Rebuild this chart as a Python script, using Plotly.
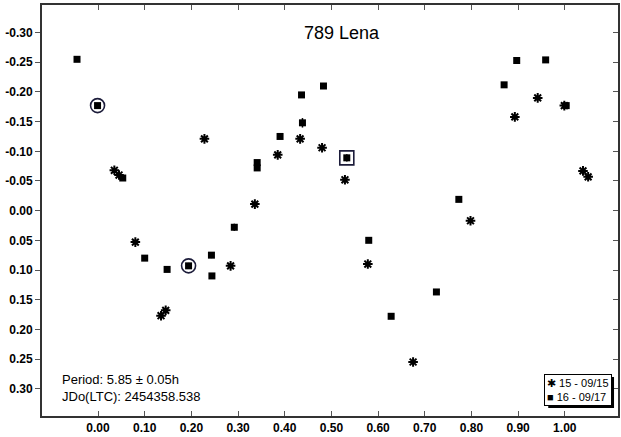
import plotly.graph_objects as go

# Session 15 (2007-09-15): phase and relative magnitude
phase_15 = [0.035, 0.045, 0.080, 0.135, 0.145, 0.228, 0.284, 0.336, 0.385, 0.433,
            0.480, 0.529, 0.578, 0.675, 0.798, 0.893, 0.942, 0.999, 1.039, 1.050]
mag_15 = [-0.068, -0.060, 0.053, 0.177, 0.168, -0.121, 0.093, -0.011, -0.094, -0.121,
          -0.106, -0.052, 0.090, 0.255, 0.017, -0.158, -0.190, -0.177, -0.067, -0.057]

# Session 16 (2007-09-17): phase, relative magnitude and errors
phase_16 = [-0.045, -0.001, 0.053, 0.100, 0.148, 0.194, 0.243, 0.244, 0.292, 0.341,
            0.341, 0.390, 0.436, 0.438, 0.483, 0.533, 0.580, 0.628, 0.725, 0.773,
            0.870, 0.897, 0.959, 1.003]
mag_16 = [-0.255, -0.177, -0.055, 0.080, 0.099, 0.093, 0.075, 0.110, 0.028, -0.081,
          -0.072, -0.125, -0.195, -0.148, -0.210, -0.089, 0.050, 0.178, 0.137, -0.019,
          -0.212, -0.253, -0.254, -0.177]
err_16 = [0, 0.004, 0, 0, 0, 0.005, 0.005, 0, 0.006, 0,
          0, 0.004, 0, 0.008, 0, 0.006, 0, 0, 0, 0,
          0, 0, 0, 0]

# Highlighted reference points
circle_phase = [-0.001, 0.194]
circle_mag = [-0.177, 0.093]
box_phase = [0.533]
box_mag = [-0.089]

x_ticks = [0.0, 0.1, 0.2, 0.3, 0.4, 0.5, 0.6, 0.7, 0.8, 0.9, 1.0]
x_labels = ["0.00", "0.10", "0.20", "0.30", "0.40", "0.50", "0.60", "0.70", "0.80", "0.90", "1.00"]
y_ticks = [-0.30, -0.25, -0.20, -0.15, -0.10, -0.05, 0.0, 0.05, 0.10, 0.15, 0.20, 0.25, 0.30]
y_labels = ["-0.30", "-0.25", "-0.20", "-0.15", "-0.10", "-0.05", "0.00",
            "0.05", "0.10", "0.15", "0.20", "0.25", "0.30"]

x_range = [-0.120, 1.114]
y_range = [0.346, -0.3465]

FONT = "Liberation Sans, Arial, sans-serif"
ring = "#1c1c3a"

fig = go.Figure()
fig.add_trace(go.Scatter(
    x=phase_15, y=mag_15, mode="markers", name="15 - 09/15",
    marker=dict(symbol="asterisk-open", size=8, color="black",
                line=dict(color="black", width=2))))
fig.add_trace(go.Scatter(
    x=phase_16, y=mag_16, mode="markers", name="16 - 09/17",
    marker=dict(symbol="square", size=7, color="black"),
    error_y=dict(type="data", array=err_16, color="black", thickness=1.5, width=0)))
fig.add_trace(go.Scatter(
    x=circle_phase, y=circle_mag, mode="markers", showlegend=False,
    marker=dict(symbol="circle-open", size=14, color=ring, line=dict(color=ring, width=1.6))))
fig.add_trace(go.Scatter(
    x=box_phase, y=box_mag, mode="markers", showlegend=False,
    marker=dict(symbol="square-open", size=14, color=ring, line=dict(color=ring, width=1.6))))
# empty trace so the right-hand tick axis is drawn
fig.add_trace(go.Scatter(x=[], y=[], yaxis="y2", showlegend=False))

fig.update_layout(
    width=621, height=437,
    margin=dict(l=42, r=1, t=5, b=21),
    paper_bgcolor="white", plot_bgcolor="white",
    showlegend=False,
    xaxis=dict(range=x_range, tickvals=x_ticks, ticktext=x_labels,
               ticks="inside", ticklen=5, tickwidth=1, tickcolor="#555",
               mirror="ticks", showline=True, linecolor="#333", linewidth=2,
               showgrid=False, zeroline=False,
               tickfont=dict(family=FONT, size=12, color="black", weight="bold")),
    yaxis=dict(range=y_range, tickvals=y_ticks, ticktext=y_labels,
               ticks="outside", ticklen=5, tickwidth=1, tickcolor="#555",
               mirror=True, showline=True, linecolor="#333", linewidth=2,
               showgrid=False, zeroline=False,
               tickfont=dict(family=FONT, size=12, color="black", weight="bold")),
    yaxis2=dict(range=y_range, overlaying="y", side="right", tickvals=y_ticks,
                ticks="inside", ticklen=5, tickwidth=1, tickcolor="#555",
                showticklabels=False, showline=False, showgrid=False, zeroline=False),
)

# title
fig.add_annotation(text="789 Lena", xref="paper", yref="paper", x=0.52, y=0.931,
                   xanchor="center", yanchor="middle", showarrow=False,
                   font=dict(family=FONT, size=18, color="black"))

# period / epoch note
fig.add_annotation(text="Period: 5.85 ± 0.05h<br>JDo(LTC): 2454358.538",
                   xref="paper", yref="paper", x=0.032, y=0.067,
                   xanchor="left", yanchor="middle", align="left", showarrow=False,
                   font=dict(family=FONT, size=13, color="black"))

# legend box: drop shadow behind a bordered label
fig.add_shape(type="rect", xref="paper", yref="paper",
              x0=0.8789, x1=0.9931, y0=0.0195, y1=0.0949,
              fillcolor="black", line=dict(width=0), layer="above")
fig.add_annotation(text="✱ 15 - 09/15<br>■ 16 - 09/17", xref="paper", yref="paper",
                   x=0.9896, y=0.0243, xanchor="right", yanchor="bottom",
                   align="left", showarrow=False,
                   bgcolor="white", bordercolor="black", borderwidth=1, borderpad=2,
                   font=dict(family=FONT, size=11, color="black"))

fig.write_html("out.html")
